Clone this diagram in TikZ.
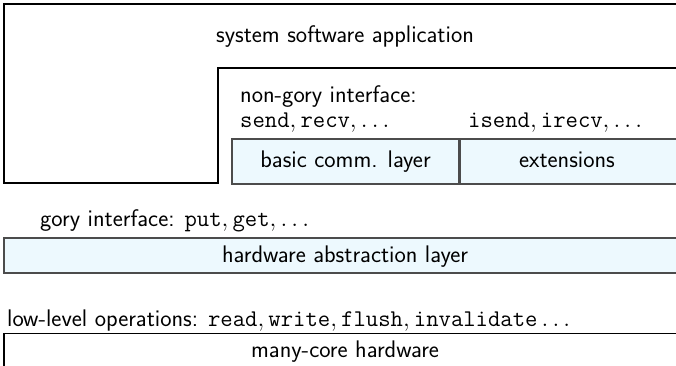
\documentclass[tikz,border=0pt]{standalone}
\usepackage{fontspec}
\begin{document}
\begin{tikzpicture}[x=1pt,y=-1pt,
  every node/.style={font=\fontsize{24}{28}\selectfont\sffamily, inner sep=0pt},
  frameline/.style={draw=black, line width=1.3pt},
  layerbox/.style={draw=black!70, line width=1.3pt, fill=cyan!7, minimum height=#1},
  label/.style={anchor=base west},
  midlabel/.style={anchor=base}]
\useasboundingbox (0,0) rectangle (676,365);
\clip (0,0) rectangle (676,365);

% application frame with the nested interface frame
\coordinate (appTR) at (700,4);
\coordinate (appTL) at (4,4);
\coordinate (appBL) at (4,183);
\coordinate (notchB) at (218,183);
\coordinate (notchT) at (218,68);
\coordinate (inner) at (700,68);
\draw[frameline] (appTR) -- (appTL) -- (appBL) -- (notchB) -- (notchT) -- (inner);
\node[midlabel] (app) at (345,42) {system software application};

% non-gory interface
\node[label] (ngi) at (240,102) {non-gory interface:};
\node[label] (sr) at (240,127.5) {$\mathtt{send}, \mathtt{recv}, \ldots$};
\node[label] (isr) at (468,127.5) {$\mathtt{isend}, \mathtt{irecv}, \ldots$};
\node[layerbox=45pt, minimum width=227pt] (basic) at (345.5,161.5) {};
\node[midlabel] (basict) at (345.5,167.5) {basic comm. layer};
\node[layerbox=45pt, minimum width=220pt, anchor=west] (ext) at (basic.east) {};
\node[midlabel] (extt) at (567,167.5) {extensions};

% hardware abstraction layer
\node[label] (gory) at (40,226) {gory interface: $\mathtt{put}, \mathtt{get}, \ldots$};
\node[layerbox=35pt, minimum width=682pt] (hal) at (345,255.5) {};
\node[midlabel] (halt) at (345,262) {hardware abstraction layer};

% hardware
\node[label] (low) at (7,326) {low-level operations: $\mathtt{read}, \mathtt{write}, \mathtt{flush}, \mathtt{invalidate}\ldots$};
\node[draw=black, line width=1.3pt, minimum width=682pt, minimum height=40pt, anchor=north] (hw) at (345,333) {};
\node[midlabel] (hwt) at (345,357) {many-core hardware};
\end{tikzpicture}
\end{document}
